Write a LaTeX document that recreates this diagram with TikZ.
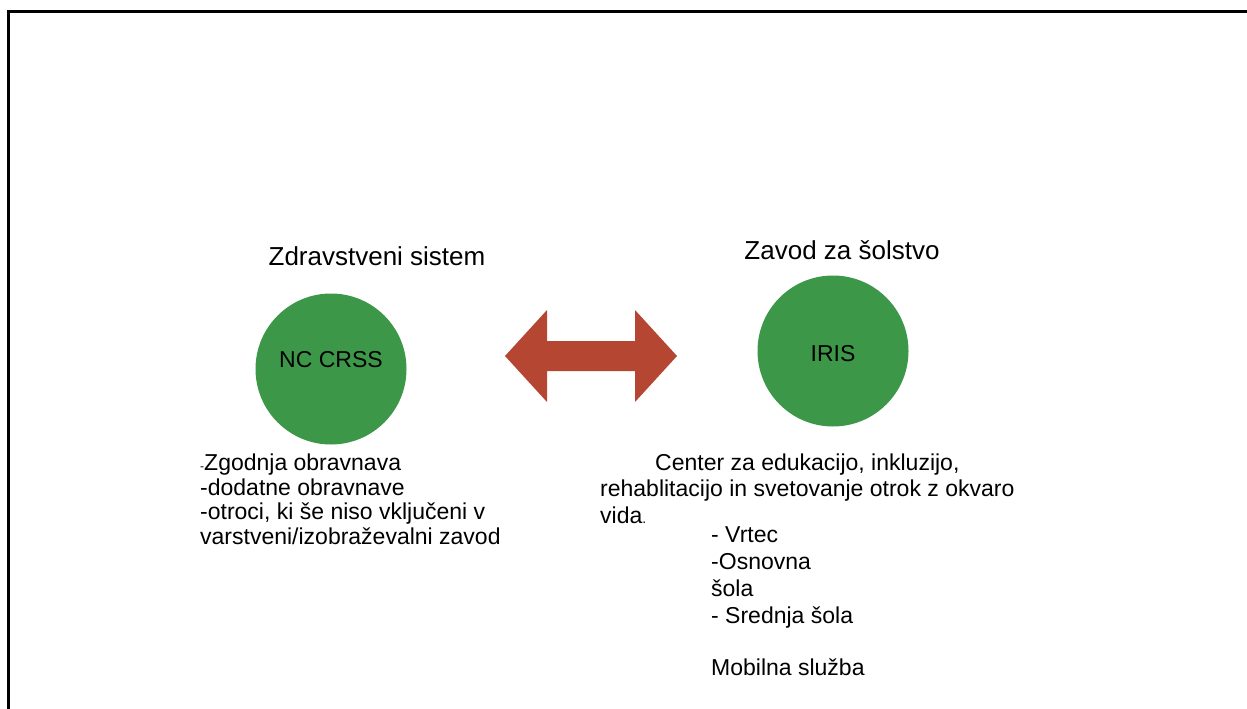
\documentclass[tikz,border=0pt]{standalone}
\usepackage{fontspec}
\setmainfont{Liberation Sans}
\usetikzlibrary{positioning}
\definecolor{feltgreen}{RGB}{60,152,72}
\definecolor{brickred}{RGB}{180,70,50}
\tikzstyle{ball}=[
	circle,
	fill=feltgreen,
	minimum size=151pt,
	inner sep=0pt
]
\tikzstyle{balltext}=[
	inner sep=0pt,
	font=\fontsize{23}{26}\selectfont
]
\tikzstyle{heading}=[
	anchor=base,
	inner sep=0pt,
	font=\fontsize{26}{30}\selectfont
]
\tikzstyle{notes}=[
	anchor=base west,
	align=left,
	inner sep=0pt,
	font=\fontsize{23}{24.4}\selectfont
]
\tikzstyle{frame}=[
	line width=3pt,
	black
]

\begin{document}
\begin{tikzpicture}[x=1pt,y=-1pt]
\useasboundingbox (0,0) rectangle (1247,709);
\draw [frame] (8,709) -- (8,12) -- (1247,12);
\node [ball] (NcCrss) at (331,369) {};
\node [balltext] (NcCrssName) at ([yshift=9pt]NcCrss.center) {NC CRSS};
\node [ball] (Iris) at (833,351) {};
\node [balltext] (IrisName) at ([yshift=-3pt]Iris.center) {IRIS};
\node [heading] (ZdrTitle) at (377,265) {Zdravstveni sistem};
\node [heading] (ZavTitle) at (842,259) {Zavod za šolstvo};
\coordinate (Mid) at (591,356);
\fill [brickred] (Mid) ++(-86,0) -- ++(42,-46) -- ++(0,31) -- ++(88,0) -- ++(0,-31)
	-- ++(42,46) -- ++(-42,46) -- ++(0,-31) -- ++(-88,0) -- ++(0,31) -- cycle;
\node [notes] (ZdrList) at (200,544) {{\fontsize{12}{12}\selectfont -}Zgodnja obravnava\\-dodatne obravnave\\-otroci, ki še niso vključeni v\\varstveni/izobraževalni zavod};
\node [notes, font=\fontsize{23}{26.5}\selectfont] (IrisText) at (600,523) {\hspace*{55pt}Center za edukacijo, inkluzijo,\\rehablitacijo in svetovanje otrok z okvaro\\vida{\fontsize{14}{14}\selectfont .}};
\node [notes, font=\fontsize{23}{27}\selectfont] (IrisList) at (711,623) {- Vrtec\\-Osnovna\\šola\\- Srednja šola};
\node [notes] (Mobil) at (711,675) {Mobilna služba};
\end{tikzpicture}
\end{document}
